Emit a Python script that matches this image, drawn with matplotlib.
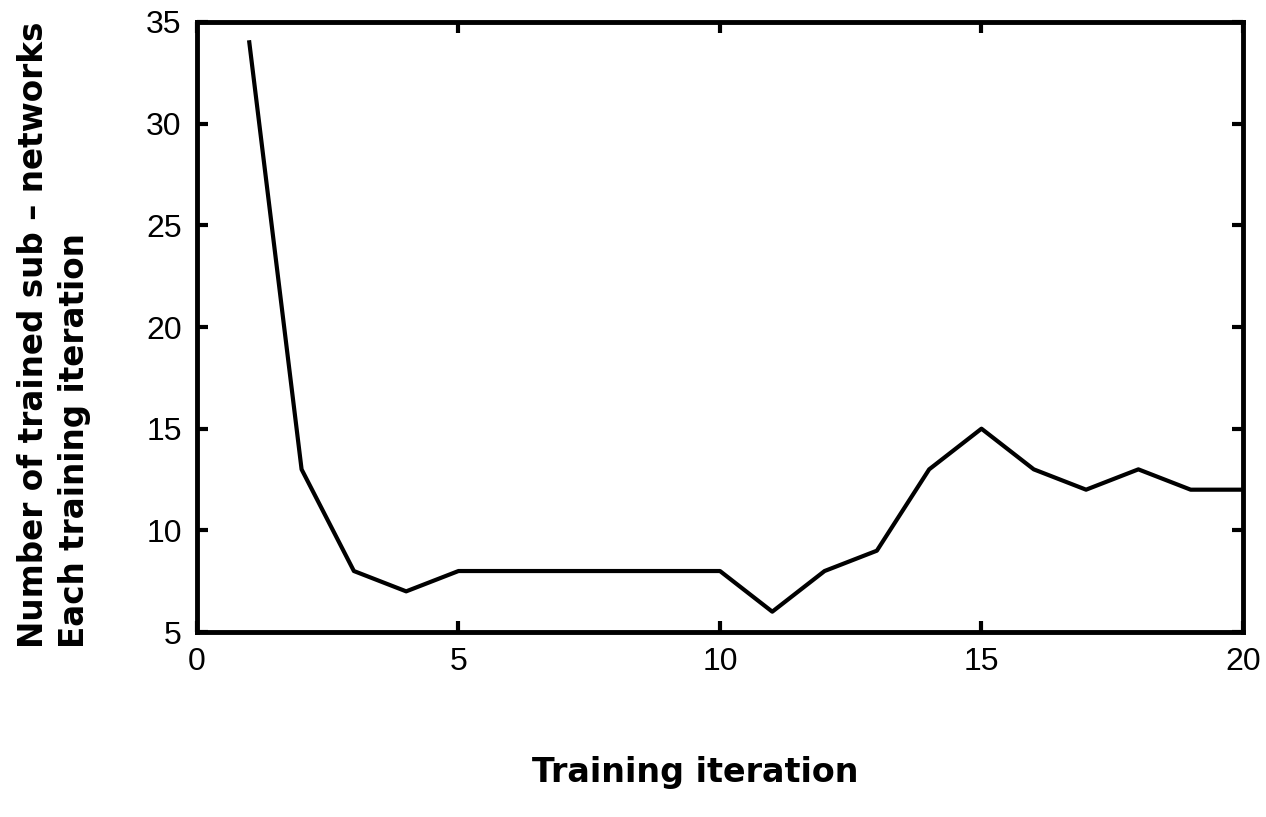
import matplotlib
matplotlib.use("Agg")
import matplotlib.pyplot as plt

iterations = list(range(1, 21))
subnetworks = [34, 13, 8, 7, 8, 8, 8, 8, 8, 8, 6, 8, 9, 13, 15, 13, 12, 13, 12, 12]
xticks = [0, 5, 10, 15, 20]
yticks = [5, 10, 15, 20, 25, 30, 35]

fig = plt.figure(figsize=(12.66, 8.17), dpi=100)
ax = fig.add_axes([0.1556, 0.2264, 0.8262, 0.7467])
ax.plot(iterations, subnetworks, color="black", linewidth=3)
ax.set_xlim(0, 20)
ax.set_ylim(5, 35)
ax.set_xticks(xticks)
ax.set_yticks(yticks)
ax.tick_params(direction="in", length=8, width=3, top=True, right=True,
               labelsize=23, pad=11)
for lab in ax.get_xticklabels() + ax.get_yticklabels():
    lab.set_fontfamily("Liberation Sans")
for s in ax.spines.values():
    s.set_linewidth(3.5)

fig.text(0.549, 0.055, "Training iteration", ha="center", va="center",
         fontsize=24, fontweight="bold", family="DejaVu Sans")
fig.text(0.0425, 0.207, "Number of trained sub \u2013 networks\nEach training iteration",
         ha="center", va="bottom", rotation=90, fontsize=23.5,
         fontweight="bold", family="DejaVu Sans", linespacing=1.32,
         multialignment="left")

fig.savefig("out.png", dpi=100)
